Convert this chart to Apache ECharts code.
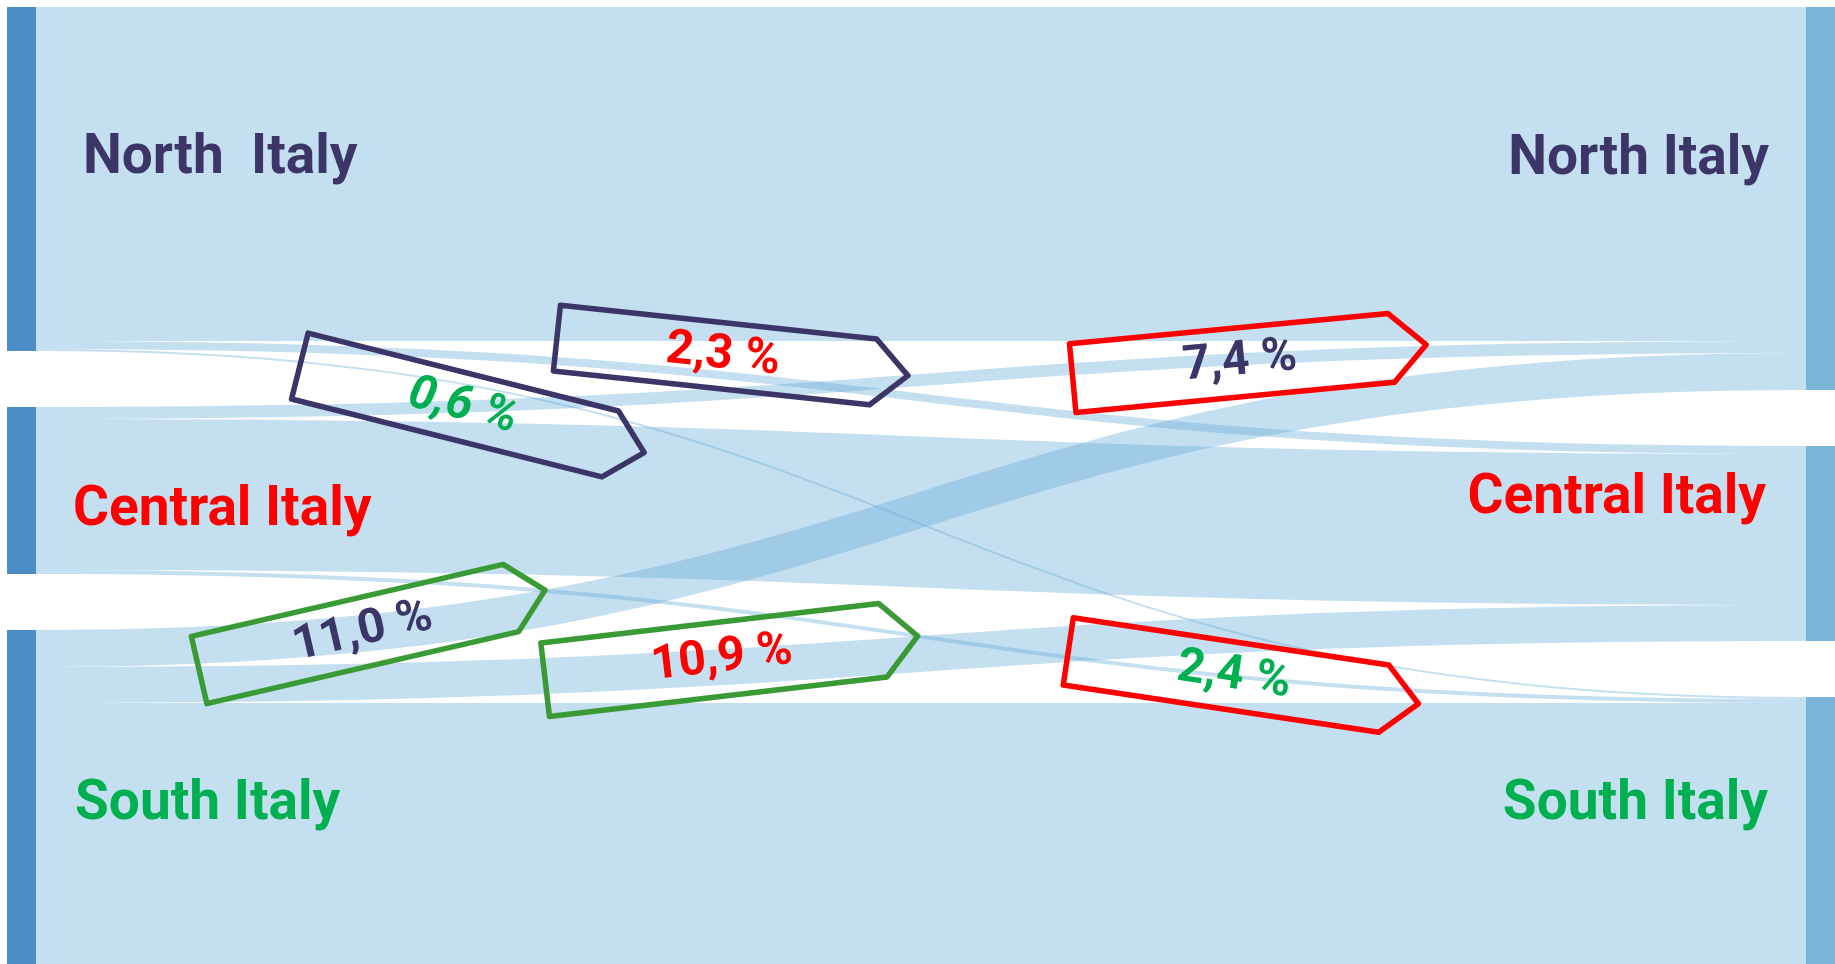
<!DOCTYPE html>
<html>
<head>
<meta charset="utf-8">
<script src="https://cdn.jsdelivr.net/npm/echarts@6/dist/echarts.min.js"></script>
<style>
html,body{margin:0;padding:0;background:#ffffff;}
#chart{width:1835px;height:964px;}
</style>
</head>
<body>
<div id="chart"></div>
<script>
// ---------- data ----------
const regions = ['North', 'Central', 'South'];
const originLabels = ['North  Italy', 'Central Italy', 'South Italy'];
const destinationLabels = ['North Italy', 'Central Italy', 'South Italy'];
// band widths: flows from each origin to [North, Central, South]
const flowsFromNorth = [334, 8, 2];
const flowsFromCentral = [12, 151, 4];
const flowsFromSouth = [37, 36, 261];
// rates printed in the arrow boxes
const moveFrom = ['North', 'North', 'Central', 'Central', 'South', 'South'];
const moveTo = ['South', 'Central', 'North', 'South', 'North', 'Central'];
const movePct = ['0,6 %', '2,3 %', '7,4 %', '2,4 %', '11,0 %', '10,9 %'];

// ---------- styles / annotation layout ----------
const textColor = { North: '#3c3568', Central: '#ff0000', South: '#00b050' };
const boxColor = { North: '#3c3568', Central: '#ff0000', South: '#3a9a35' };
const leftNodeColor = '#4a8ec5';
const rightNodeColor = '#7bb5da';
const labelPlacement = {
  o: [ {distance: 47, offset: [0, -20]}, {distance: 37, offset: [0, 21]}, {distance: 39, offset: [0, 8]} ],
  d: [ {distance: 37, offset: [0, -38]}, {distance: 40, offset: [0, -44]}, {distance: 38, offset: [0, -25]} ]
};
const boxLayout = [
  {cx: 455, cy: 405, angle: -14.1, w: 320, h: 68, italic: true},
  {cx: 715, cy: 355, angle: -6.1, w: 318, h: 66},
  {cx: 1232, cy: 363, angle: 5.4, w: 320, h: 69},
  {cx: 1226, cy: 675, angle: -8.5, w: 319, h: 68},
  {cx: 355, cy: 634, angle: 13, w: 320, h: 69},
  {cx: 714, cy: 660, angle: 6.7, w: 340, h: 74}
];

// ---------- build sankey ----------
const flowRows = [flowsFromNorth, flowsFromCentral, flowsFromSouth];
const nodes = [];
regions.forEach((r, i) => nodes.push({
  name: 'o_' + r, depth: 0,
  itemStyle: {color: leftNodeColor},
  label: {position: 'right', distance: labelPlacement.o[i].distance, offset: labelPlacement.o[i].offset,
          color: textColor[r], formatter: originLabels[i]}
}));
regions.forEach((r, i) => nodes.push({
  name: 'd_' + r, depth: 1,
  itemStyle: {color: rightNodeColor},
  label: {position: 'left', distance: labelPlacement.d[i].distance, offset: labelPlacement.d[i].offset,
          color: textColor[r], formatter: destinationLabels[i]}
}));
const links = [];
regions.forEach((src, i) => regions.forEach((dst, j) => {
  links.push({source: 'o_' + src, target: 'd_' + dst, value: flowRows[i][j]});
}));

const graphics = movePct.map((txt, k) => {
  const b = boxLayout[k];
  const t = 35;
  return {
    type: 'group', x: b.cx, y: b.cy, rotation: b.angle * Math.PI / 180, z: 100,
    children: [
      {type: 'polygon', z: 100,
       shape: {points: [[-b.w/2, -b.h/2], [b.w/2, -b.h/2], [b.w/2 + t, 0], [b.w/2, b.h/2], [-b.w/2, b.h/2]]},
       style: {fill: 'none', stroke: boxColor[moveFrom[k]], lineWidth: 5.5, lineJoin: 'round'}},
      {type: 'text', z: 101, x: 8, y: 0,
       style: {text: txt, fill: textColor[moveTo[k]], fontFamily: 'Roboto', fontWeight: 'bold',
               fontStyle: b.italic ? 'italic' : 'normal', fontSize: 48,
               textAlign: 'center', verticalAlign: 'middle', textVerticalAlign: 'middle'}}
    ]
  };
});

const chart = echarts.init(document.getElementById('chart'));
chart.setOption({
  backgroundColor: '#ffffff',
  animation: false,
  tooltip: {show: false},
  series: [{
    type: 'sankey',
    left: 7, top: 7, right: 0, bottom: 0,
    nodeWidth: 29,
    nodeGap: 56,
    layoutIterations: 0,
    draggable: false,
    emphasis: {disabled: true},
    data: nodes,
    links: links,
    itemStyle: {borderWidth: 0},
    lineStyle: {color: 'rgb(104,173,216)', opacity: 0.39, curveness: 0.5},
    label: {show: true, fontFamily: 'Roboto', fontWeight: 'bold', fontSize: 55}
  }],
  graphic: graphics
});
</script>
</body>
</html>
